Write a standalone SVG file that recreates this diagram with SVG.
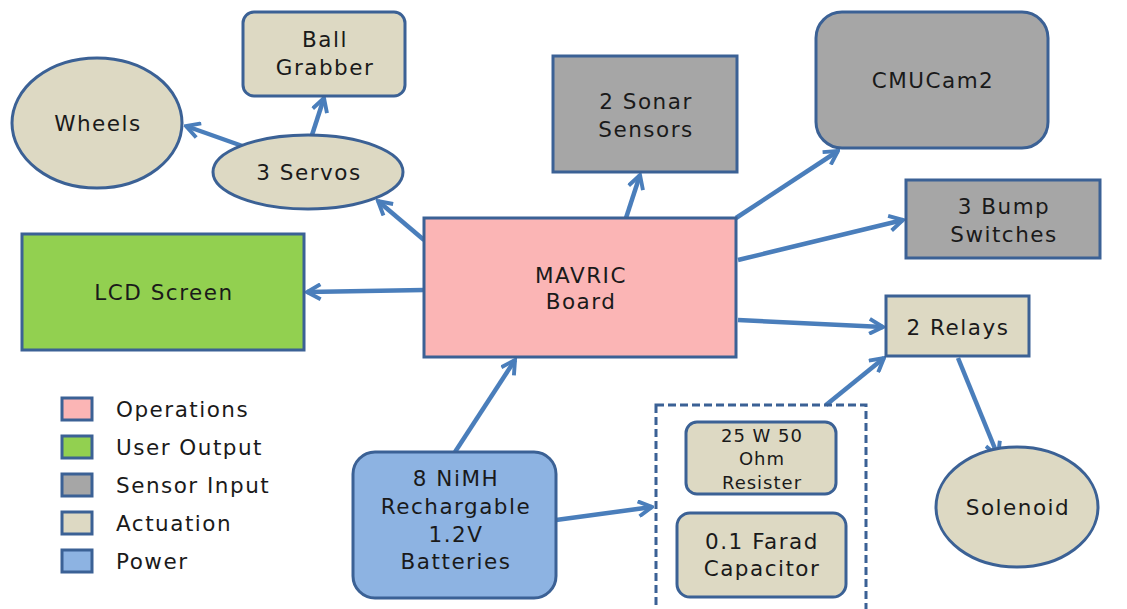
<svg xmlns="http://www.w3.org/2000/svg" width="1127" height="609" viewBox="0 0 1127 609">
<style>
.n{stroke:#3b6195;stroke-width:3}
.op{fill:#fbb5b5}.uo{fill:#92d050}.si{fill:#a6a6a6}.ac{fill:#ddd9c3}.pw{fill:#8db3e2}
text{font-family:"DejaVu Sans","Liberation Sans",sans-serif;font-size:21.5px;letter-spacing:1.5px;fill:#1a1a1a;text-anchor:middle}
.lg{text-anchor:start}
.sm{font-size:18px;letter-spacing:1px}
.c line{stroke:#4a7ebb;stroke-width:4.5;marker-end:url(#ah)}
</style>
<defs>
<marker id="ah" viewBox="0 0 12 12" refX="10.5" refY="6" markerWidth="18" markerHeight="18" markerUnits="userSpaceOnUse" orient="auto">
<path d="M1.5,1 L10.5,6 L1.5,11" fill="none" stroke="#4a7ebb" stroke-width="2.6"/>
</marker>
</defs>
<g class="c">
<line x1="424" y1="240" x2="378" y2="201"/>
<line x1="248" y1="148" x2="186" y2="126"/>
<line x1="312" y1="135" x2="324" y2="98"/>
<line x1="424" y1="290" x2="307" y2="292"/>
<line x1="626" y1="218" x2="640" y2="175"/>
<line x1="736" y1="218" x2="838" y2="151"/>
<line x1="738" y1="260" x2="903" y2="220"/>
<line x1="738" y1="320" x2="883" y2="327"/>
<line x1="455" y1="452" x2="515" y2="360"/>
<line x1="556" y1="520" x2="652" y2="507"/>
<line x1="826" y1="405" x2="884" y2="358"/>
<line x1="958" y1="358" x2="998" y2="456"/>
</g>
<g id="ball-grabber"><rect class="n ac" x="243" y="12" width="162" height="84" rx="11"/><text x="325" y="47">Ball</text><text x="325" y="75">Grabber</text></g>
<g id="wheels"><ellipse class="n ac" cx="97" cy="123" rx="85" ry="65"/><text x="98" y="131">Wheels</text></g>
<g id="servos"><ellipse class="n ac" cx="308" cy="172" rx="95" ry="37"/><text x="309" y="180">3 Servos</text></g>
<g id="sonar"><rect class="n si" x="553" y="56" width="184" height="116"/><text x="646" y="109">2 Sonar</text><text x="646" y="137">Sensors</text></g>
<g id="cmucam"><rect class="n si" x="816" y="12" width="232" height="136" rx="26"/><text x="933" y="88">CMUCam2</text></g>
<g id="bump"><rect class="n si" x="906" y="180" width="194" height="78"/><text x="1004" y="214">3 Bump</text><text x="1004" y="242">Switches</text></g>
<g id="lcd"><rect class="n uo" x="22" y="234" width="282" height="116"/><text x="164" y="300">LCD Screen</text></g>
<g id="mavric"><rect class="n op" x="424" y="218" width="312" height="139"/><text x="581" y="283">MAVRIC</text><text x="581" y="309">Board</text></g>
<g id="relays"><rect class="n ac" x="886" y="296" width="143" height="60"/><text x="958" y="335">2 Relays</text></g>
<g id="solenoid"><ellipse class="n ac" cx="1017" cy="507" rx="81" ry="60"/><text x="1018" y="515">Solenoid</text></g>
<g id="batteries"><rect class="n pw" x="353" y="452" width="203" height="146" rx="22"/><text x="456" y="486">8 NiMH</text><text x="456" y="514">Rechargable</text><text x="456" y="542">1.2V</text><text x="456" y="569">Batteries</text></g>
<g id="circuit"><rect x="656" y="405" width="210" height="220" fill="none" stroke="#3b6195" stroke-width="3" stroke-dasharray="8,4"/></g>
<g id="resister"><rect class="n ac" x="686" y="422" width="150" height="72" rx="11"/><text class="sm" x="762" y="442">25 W 50</text><text class="sm" x="762" y="465">Ohm</text><text class="sm" x="762" y="489">Resister</text></g>
<g id="capacitor"><rect class="n ac" x="677" y="513" width="169" height="84" rx="13"/><text x="762" y="549">0.1 Farad</text><text x="762" y="576">Capacitor</text></g>
<g id="legend">
<rect class="n op" x="62" y="398" width="30" height="22"/><text class="lg" x="116" y="417">Operations</text>
<rect class="n uo" x="62" y="436" width="30" height="22"/><text class="lg" x="116" y="455">User Output</text>
<rect class="n si" x="62" y="474" width="30" height="22"/><text class="lg" x="116" y="493">Sensor Input</text>
<rect class="n ac" x="62" y="512" width="30" height="22"/><text class="lg" x="116" y="531">Actuation</text>
<rect class="n pw" x="62" y="550" width="30" height="22"/><text class="lg" x="116" y="569">Power</text>
</g>
</svg>
